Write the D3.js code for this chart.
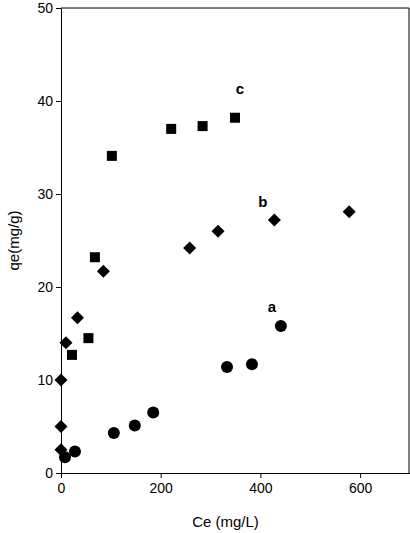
<!DOCTYPE html><html><head><meta charset="utf-8"><script src="https://cdn.jsdelivr.net/npm/d3@7"></script>
<style>body{margin:0;background:#fff}text{font-family:"Liberation Sans",Arial,sans-serif}</style></head><body><svg id="c" width="410" height="533"></svg>
<script>
const aX=[8,28,106,148,185,333,383,441];
const aY=[1.7,2.3,4.3,5.1,6.5,11.4,11.7,15.8];
const bX=[0,0,0,10,33,85,258,315,428,578];
const bY=[2.5,5,10,14,16.7,21.7,24.2,26,27.2,28.1];
const cX=[22,55,68,102,221,284,349];
const cY=[12.7,14.5,23.2,34.1,37,37.3,38.2];
const xTicks=[0,200,400,600];
const yTicks=[0,10,20,30,40,50];
const labels=[["c",359,40.8],["b",405,28.6],["a",423,17.3]];
const svg=d3.select("#c");
const x=d3.scaleLinear().domain([0,700]).range([61,410]);
const y=d3.scaleLinear().domain([0,50]).range([473,8]);
svg.append("path").attr("d",`M${x(0)},${y(50)}H${x(700)-1}V${y(0)}`).attr("fill","none").attr("stroke","#000").attr("stroke-width",1);
const xa=svg.append("g").attr("transform",`translate(0,${y(0)})`).call(d3.axisBottom(x).tickValues(xTicks).tickSize(5).tickPadding(5).tickSizeOuter(0));
const ya=svg.append("g").attr("transform",`translate(${x(0)},0)`).call(d3.axisLeft(y).tickValues(yTicks).tickSize(5).tickPadding(3).tickSizeOuter(0));
[xa,ya].forEach(a=>{a.selectAll("text").attr("font-size",14).attr("font-family","Liberation Sans, Arial").attr("fill","#000");a.select(".domain").attr("stroke","#000");});
svg.append("g").selectAll("circle").data(aX.map((d,i)=>[d,aY[i]])).join("circle").attr("cx",d=>x(d[0])).attr("cy",d=>y(d[1])).attr("r",6);
svg.append("g").selectAll("path").data(bX.map((d,i)=>[d,bY[i]])).join("path").attr("d",d3.symbol(d3.symbolSquare,85)).attr("transform",d=>`translate(${x(d[0])},${y(d[1])}) rotate(45)`);
svg.append("g").selectAll("rect").data(cX.map((d,i)=>[d,cY[i]])).join("rect").attr("x",d=>x(d[0])-5).attr("y",d=>y(d[1])-5).attr("width",10).attr("height",10);
labels.forEach(([t,vx,vy])=>svg.append("text").attr("x",x(vx)).attr("y",y(vy)).attr("font-size",15).attr("font-weight","bold").attr("text-anchor","middle").text(t));
svg.append("text").attr("x",x(330)).attr("y",527).attr("text-anchor","middle").attr("font-size",15).text("Ce (mg/L)");
svg.append("text").attr("transform",`translate(19,${y(25)}) rotate(-90)`).attr("text-anchor","middle").attr("font-size",15).text("qe(mg/g)");
</script></body></html>
